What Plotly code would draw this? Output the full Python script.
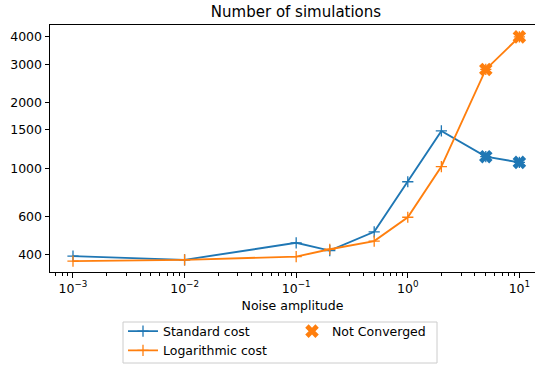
import plotly.graph_objects as go

noise = [1e-3, 1e-2, 1e-1, 2e-1, 5e-1, 1.0, 2.0, 5.0, 10.0]
standard_cost = [395, 380, 455, 419, 511, 867, 1483, 1130, 1064]
log_cost = [375, 380, 393, 425, 463, 596, 1017, 2839, 4005]
not_conv_x = [5.0, 10.0]
not_conv_standard = [1130, 1064]
not_conv_log = [2839, 4005]

x_tickvals = [1e-3, 1e-2, 1e-1, 1.0, 10.0]
x_ticktext = ["10<sup>−3</sup>", "10<sup>−2</sup>", "10<sup>−1</sup>", "10<sup>0</sup>", "10<sup>1</sup>"]
x_minor = [m * 10.0 ** e for e in range(-4, 2) for m in range(2, 10)]
y_tickvals = [400, 600, 1000, 1500, 2000, 3000, 4000]
y_ticktext = ["400", "600", "1000", "1500", "2000", "3000", "4000"]

BLUE = "#1f77b4"
ORANGE = "#ff7f0e"
FONT = "DejaVu Sans"

fig = go.Figure()
fig.add_trace(go.Scatter(
    x=noise, y=standard_cost, mode="lines+markers", name="Standard cost",
    line=dict(color=BLUE, width=1.9),
    marker=dict(symbol="cross-thin", size=8, color=BLUE, line=dict(width=1.3, color=BLUE)),
    legend="legend"))
fig.add_trace(go.Scatter(
    x=noise, y=log_cost, mode="lines+markers", name="Logarithmic cost",
    line=dict(color=ORANGE, width=1.9),
    marker=dict(symbol="cross-thin", size=8, color=ORANGE, line=dict(width=1.3, color=ORANGE)),
    legend="legend"))
fig.add_trace(go.Scatter(
    x=not_conv_x, y=not_conv_standard, mode="markers", showlegend=False,
    marker=dict(symbol="x", size=12, color=BLUE, line=dict(width=0))))
fig.add_trace(go.Scatter(
    x=not_conv_x, y=not_conv_log, mode="markers", name="Not Converged",
    marker=dict(symbol="x", size=12, color=ORANGE, line=dict(width=0)),
    legend="legend2"))

W, H = 535, 367
ml, mr, mt, mb = 50, 0, 25, 95

# legend frame (pixel positions in the figure)
box_l, box_r, box_t, box_b = 123, 437, 322, 363

fig.add_shape(type="rect", xref="paper", yref="paper",
              x0=(box_l - ml) / (W - ml - mr), x1=(box_r - ml) / (W - ml - mr),
              y0=((H - mb) - box_b) / (H - mb - mt), y1=((H - mb) - box_t) / (H - mb - mt),
              line=dict(color="#cccccc", width=1), fillcolor="white", layer="above")

leg_common = dict(orientation="v", xref="container", yref="container",
                  xanchor="left", yanchor="top", borderwidth=0,
                  bgcolor="rgba(0,0,0,0)", font=dict(size=12.5), tracegroupgap=0)

fig.update_layout(
    width=W, height=H,
    margin=dict(l=ml, r=mr, t=mt, b=mb, pad=0, autoexpand=False),
    paper_bgcolor="white", plot_bgcolor="white",
    font=dict(family=FONT, size=12.5, color="black"),
    title=dict(text="Number of simulations", x=(296 - ml) / (W - ml - mr), xref="paper",
               xanchor="center", y=1 - 12 / H, yanchor="middle",
               font=dict(family=FONT, size=15, color="black")),
    xaxis=dict(
        type="log", range=[-3.206, 1.14],
        tickmode="array", tickvals=x_tickvals, ticktext=x_ticktext,
        ticks="outside", ticklen=4.5, tickwidth=1, tickcolor="black",
        showline=True, linecolor="black", linewidth=1, mirror=True,
        showgrid=False, zeroline=False,
        minor=dict(tickmode="array", tickvals=x_minor, ticks="outside", ticklen=2.5,
                   tickwidth=0.8, tickcolor="black", showgrid=False),
        title=dict(text="Noise amplitude", standoff=6, font=dict(size=12.5)),
        tickfont=dict(size=12.5),
    ),
    yaxis=dict(
        type="log", range=[2.524, 3.657],
        tickmode="array", tickvals=y_tickvals, ticktext=y_ticktext,
        ticks="outside", ticklen=4.5, tickwidth=1, tickcolor="black",
        showline=True, linecolor="black", linewidth=1, mirror=False,
        showgrid=False, zeroline=False,
        tickfont=dict(size=12.5),
    ),
    legend=dict(x=123 / W, y=1 - 316.5 / H, **leg_common),
    legend2=dict(x=292 / W, y=1 - 316.5 / H, **leg_common),
    showlegend=True,
)

fig.write_html("out.html")
